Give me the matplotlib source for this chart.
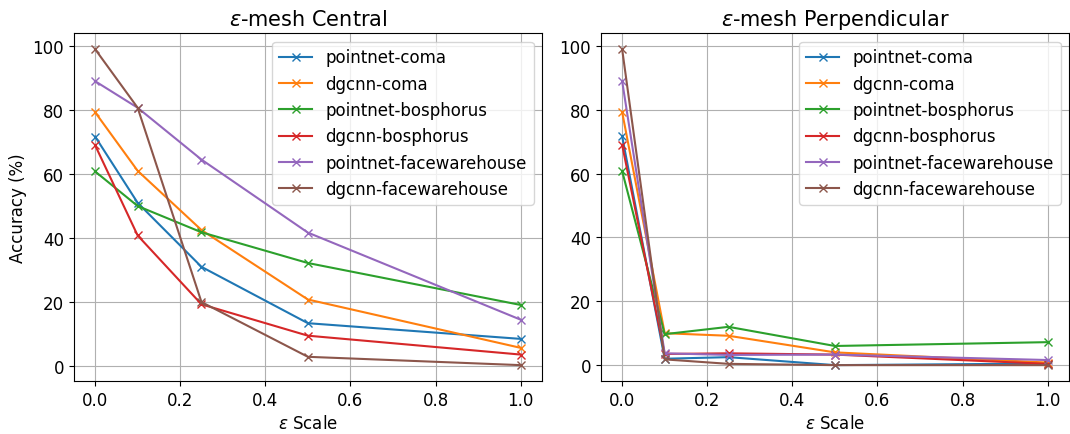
import numpy as np
import matplotlib.pyplot as plt

scales = [0.0, 0.1, 0.25, 0.5, 1.0]
labels = ['pointnet-coma', 'dgcnn-coma', 'pointnet-bosphorus',
          'dgcnn-bosphorus', 'pointnet-facewarehouse', 'dgcnn-facewarehouse']

# accuracy (%) for eps-mesh central
central = [
    [71.7, 51.0, 31.0, 13.4, 8.5],
    [79.3, 61.0, 42.5, 20.8, 5.7],
    [60.8, 50.0, 41.8, 32.2, 19.1],
    [69.0, 40.8, 19.3, 9.5, 3.6],
    [89.0, 80.7, 64.5, 41.7, 14.5],
    [99.0, 80.7, 20.0, 2.9, 0.3],
]

# accuracy (%) for eps-mesh perpendicular
perpendicular = [
    [71.7, 2.0, 2.5, 0.0, 0.5],
    [79.3, 10.0, 9.2, 4.0, 0.8],
    [60.8, 9.7, 12.0, 6.0, 7.2],
    [69.0, 3.5, 3.7, 3.3, 0.4],
    [89.0, 3.7, 3.2, 3.3, 1.6],
    [99.0, 1.8, 0.4, 0.0, 0.0],
]

plt.rcParams['font.size'] = 12
fig, axes = plt.subplots(1, 2, figsize=(10.7, 4.35), dpi=100)

for ax, data, title in zip(axes, [central, perpendicular],
                           [r'$\epsilon$-mesh Central', r'$\epsilon$-mesh Perpendicular']):
    for vals, lab in zip(data, labels):
        ax.plot(scales, vals, marker='x', label=lab)
    ax.set_title(title, fontsize=15)
    ax.set_xlabel(r'$\epsilon$ Scale')
    ax.grid(True)
    ax.legend(loc='upper right')

axes[0].set_ylabel('Accuracy (%)')

plt.subplots_adjust(left=0.069, right=0.999, top=0.921, bottom=0.122, wspace=0.126)
plt.savefig('out.png')
